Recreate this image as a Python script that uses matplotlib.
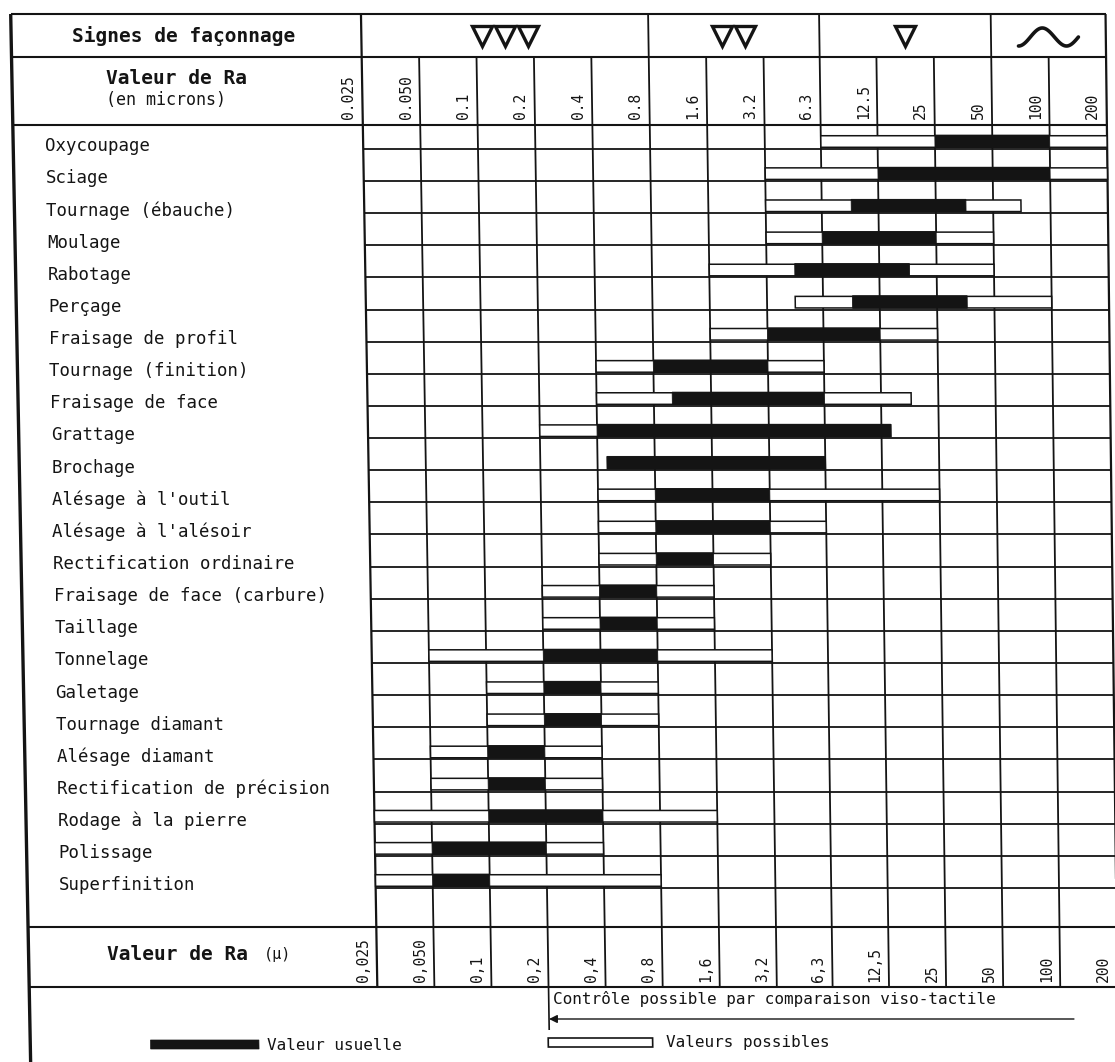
import matplotlib
matplotlib.use("Agg")
import numpy as np
import matplotlib.pyplot as plt
from matplotlib.transforms import Transform
from matplotlib.patches import Rectangle

# ---------------- data ----------------
ra_values = [0.025, 0.05, 0.1, 0.2, 0.4, 0.8, 1.6, 3.2, 6.3, 12.5, 25, 50, 100, 200]
ra_top_labels = ["0.025", "0.050", "0.1", "0.2", "0.4", "0.8", "1.6", "3.2", "6.3",
                 "12.5", "25", "50", "100", "200"]
ra_bottom_labels = ["0,025", "0,050", "0,1", "0,2", "0,4", "0,8", "1,6", "3,2", "6,3",
                    "12,5", "25", "50", "100", "200"]

signes_count = [3, 2, 1, 0]          # number of triangles (0 = wave sign)
signes_lo = [0.025, 0.8, 6.3, 50]
signes_hi = [0.8, 6.3, 50, 200]

procedes = ["Oxycoupage", "Sciage", "Tournage (ébauche)", "Moulage", "Rabotage",
            "Perçage", "Fraisage de profil", "Tournage (finition)", "Fraisage de face",
            "Grattage", "Brochage", "Alésage à l'outil", "Alésage à l'alésoir",
            "Rectification ordinaire", "Fraisage de face (carbure)", "Taillage",
            "Tonnelage", "Galetage", "Tournage diamant", "Alésage diamant",
            "Rectification de précision", "Rodage à la pierre", "Polissage",
            "Superfinition"]

# valeurs possibles (Ra, microns)
possible_lo = [6.3, 3.2, 3.2, 3.2, 1.6, 4.5, 1.6, 0.4, 0.4, 0.2, 0.45, 0.4,
               0.4, 0.4, 0.2, 0.2, 0.05, 0.1, 0.1, 0.05, 0.05, 0.025, 0.025, 0.025]
possible_hi = [200, 200, 70, 50, 50, 100, 25, 6.3, 18, 14, 6.3, 25,
               6.3, 3.2, 1.6, 1.6, 3.2, 0.8, 0.8, 0.4, 0.4, 1.6, 0.4, 0.8]
# valeur usuelle (Ra, microns)
usuel_lo = [25, 12.5, 9, 6.3, 4.5, 9, 3.2, 0.8, 1.0, 0.4, 0.45, 0.8,
            0.8, 0.8, 0.4, 0.4, 0.2, 0.2, 0.2, 0.1, 0.1, 0.1, 0.05, 0.05]
usuel_hi = [100, 100, 36, 25, 18, 36, 12.5, 3.2, 6.3, 14, 6.3, 3.2,
            3.2, 1.6, 0.8, 0.8, 0.8, 0.4, 0.4, 0.2, 0.2, 0.4, 0.2, 0.1]

# ---------------- layout ----------------
W, H = 1115, 1062
X0, X1 = 363.0, 1107.0       # pixels of the 0.025 and 200 column lines (top)
DX = (X1 - X0) / np.log2(200 / 0.025)
Y0, DY = 148.9, 32.13        # pixel of first row line, pixels per row
K_LEFT, K_RIGHT = 0.0168, 0.0121   # scan skew, left / right side
FONT = "DejaVu Sans Mono"


class ScanSkew(Transform):
    """Slight keystone skew of the scanned sheet (display pixels)."""
    input_dims = 2
    output_dims = 2

    def transform_non_affine(self, values):
        v = np.array(values, dtype=float).reshape(-1, 2)
        x, y = v[:, 0], v[:, 1]
        p = H - y
        k = K_LEFT + (K_RIGHT - K_LEFT) * (x - X0) / (X1 - X0)
        return np.column_stack([x + k * (p - 135.0), y])


def px(p):
    return 0.025 * 2 ** ((p - X0) / DX)


def py(p):
    return (p - Y0) / DY


fig = plt.figure(figsize=(W / 100, H / 100), dpi=100)
fig.patch.set_facecolor("white")
ax = fig.add_axes([0, 0, 1, 1])
ax.set_xscale("log", base=2)
ax.set_xlim(px(0), px(W))
ax.set_ylim(py(H), py(0))
ax.axis("off")
tr = ax.transData + ScanSkew()

INK = "#141414"
LW = 1.3


def line(xs, ys, lw=LW):
    ax.plot(xs, ys, color=INK, lw=lw, transform=tr, clip_on=False,
            solid_capstyle="butt")


x_left = px(13)
x_lab = ra_values[0]
x_right = ra_values[-1]
Y_TOP, Y_H1, Y_H2, Y_B1, Y_B2 = py(14), py(57), py(125), py(927), py(987)

# horizontal structure
for yy in (Y_TOP, Y_H1, Y_H2, Y_B1, Y_B2):
    line([x_left, x_right], [yy, yy], lw=1.5)
for k in range(len(procedes)):
    line([x_lab, x_right], [k, k])

# vertical structure
line([x_left, x_left], [Y_TOP, py(H)], lw=2.4)
line([x_lab, x_lab], [Y_TOP, Y_B2], lw=1.6)
line([x_right, x_right], [Y_TOP, Y_B2], lw=1.6)
for v in ra_values[1:-1]:
    line([v, v], [Y_H1, Y_B2])
for v in signes_lo[1:]:
    line([v, v], [Y_TOP, Y_H1])

# bars
for k in range(len(procedes)):
    ax.add_patch(Rectangle((possible_lo[k], k - 0.41), possible_hi[k] - possible_lo[k], 0.36,
                           facecolor="white", edgecolor=INK, lw=1.1, transform=tr,
                           clip_on=False, zorder=3))
    ax.add_patch(Rectangle((usuel_lo[k], k - 0.43), usuel_hi[k] - usuel_lo[k], 0.39,
                           facecolor=INK, edgecolor=INK, lw=0.6, transform=tr,
                           clip_on=False, zorder=4))

# row labels
for k, name in enumerate(procedes):
    ax.text(px(45), k - 0.08, name, transform=tr, ha="left", va="center",
            fontsize=12.5, color=INK, family=FONT)

# header
ax.text(px(185), py(36), "Signes de façonnage", transform=tr, ha="center",
        va="center", fontsize=14, fontweight="bold", color=INK, family=FONT)
tri_w = 23.0 / DX   # triangle spacing, octaves
wave_t = np.linspace(0.0, 1.0, 80)
for n, lo, hi in zip(signes_count, signes_lo, signes_hi):
    c = np.sqrt(lo * hi)
    if n > 0:
        offs = (np.arange(n) - (n - 1) / 2.0) * tri_w
        ax.plot(c * 2 ** offs, [py(36)] * n, linestyle="none", marker="v",
                ms=15, mew=2.4, mfc="white", mec=INK, transform=tr, clip_on=False)
    else:
        # the "~" sign drawn as a stroke
        wx = c * 2 ** ((wave_t - 0.5) * 60.0 / DX)
        wy = py(37) - (9.0 / DY) * np.sin(-np.pi / 2 + wave_t * 2.5 * np.pi)
        ax.plot(wx, wy, color=INK, lw=2.6, transform=tr, clip_on=False,
                solid_capstyle="round")
ax.text(px(107), py(78), "Valeur de Ra", transform=tr, ha="left", va="center",
        fontsize=14, fontweight="bold", color=INK, family=FONT)
ax.text(px(107), py(100), "(en microns)", transform=tr, ha="left", va="center",
        fontsize=12, color=INK, family=FONT)

off = 2 ** (-14 / DX)
for v, lab in zip(ra_values, ra_top_labels):
    ax.text(v * off, py(119), lab, transform=tr, rotation=90, ha="center",
            va="bottom", fontsize=10.5, color=INK, family=FONT)

# bottom scale
ax.text(px(92), py(955), "Valeur de Ra", transform=tr, ha="left", va="center",
        fontsize=14, fontweight="bold", color=INK, family=FONT)
ax.text(px(250), py(955), "(\u00b5)", transform=tr, ha="left", va="center",
        fontsize=11, color=INK, family=FONT)
for v, lab in zip(ra_values, ra_bottom_labels):
    ax.text(v * off, py(982), lab, transform=tr, rotation=90, ha="center",
            va="bottom", fontsize=10.5, color=INK, family=FONT)

# legend area
x_ctrl = ra_values[3]
line([x_ctrl, x_ctrl], [Y_B2, py(1030)], lw=1.2)
ax.text(x_ctrl * 2 ** (4 / DX), py(999), "Contrôle possible par comparaison viso-tactile",
        transform=tr, ha="left", va="center", fontsize=11.5, color=INK, family=FONT)
ax.annotate("", xy=(x_ctrl, py(1019)), xytext=(px(1063), py(1019)),
            xycoords=tr, textcoords=tr,
            arrowprops=dict(arrowstyle="-|>", color=INK, lw=1.0, mutation_scale=12,
                            shrinkA=0, shrinkB=0))

ax.add_patch(Rectangle((px(134), py(1049)), px(243) - px(134), py(1040) - py(1049),
                       facecolor=INK, edgecolor=INK, lw=0.5, transform=tr, clip_on=False))
ax.text(px(251), py(1045), "Valeur usuelle", transform=tr, ha="left", va="center",
        fontsize=11.5, color=INK, family=FONT)
ax.add_patch(Rectangle((px(534), py(1047)), px(639) - px(534), py(1038) - py(1047),
                       facecolor="white", edgecolor=INK, lw=1.2, transform=tr, clip_on=False))
ax.text(px(652), py(1043), "Valeurs possibles", transform=tr, ha="left", va="center",
        fontsize=11.5, color=INK, family=FONT)

fig.savefig("out.png", dpi=100, facecolor="white")
